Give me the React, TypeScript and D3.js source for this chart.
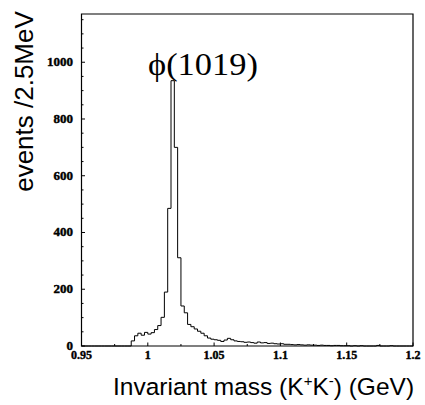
import React from "react";
import * as d3 from "d3";

const binStart = 0.95;
const binWidth = 0.0025;
const counts: number[] = [
  0, 0, 0, 0, 0, 0, 0, 0, 0, 0, 0, 0, 0, 0, 0,
  18, 36, 45, 38, 48, 42, 47, 58, 72,
  101, 190, 485, 935, 700, 311, 141, 117,
  76, 68, 60, 52, 45, 36, 28, 24, 22, 20, 16, 21,
  27, 22, 18, 16, 15, 13, 14,
  12, 10, 14, 11, 12, 9, 10, 8, 7, 8,
  6, 6, 5, 4, 5, 4, 3, 4, 3, 3,
  2, 3, 2, 2, 1, 2, 2, 1, 1, 1,
  0, 1, 0, 1, 0, 0, 0, 0, 2, 0,
  0, 0, 1, 0, 0, 0, 0, 0, 0,
];
const xTicks = [0.95, 1, 1.05, 1.1, 1.15, 1.2];
const xTickLabels = ["0.95", "1", "1.05", "1.1", "1.15", "1.2"];
const xMinorTicks = [0.975, 1.025, 1.075, 1.125, 1.175];
const yTicks = [0, 200, 400, 600, 800, 1000];
const yMinorTicks = [50, 100, 150, 250, 300, 350, 450, 500, 550, 650, 700, 750, 850, 900, 950, 1050, 1100, 1150];
const peakLabel = "ϕ(1019)";

export default function App() {
  const left = 81.5, right = 413, top = 14, bottom = 346;
  const x = d3.scaleLinear().domain([0.95, 1.2]).range([left, right]);
  const y = d3.scaleLinear().domain([0, 1170]).range([bottom, top]);

  const pts: [number, number][] = [];
  counts.forEach((c, i) => {
    const x0 = binStart + i * binWidth;
    pts.push([x(x0), y(c)]);
    pts.push([x(x0 + binWidth), y(c)]);
  });
  const line = d3.line<[number, number]>().x(d => d[0]).y(d => d[1]);
  const histPath = line(pts) || "";

  const tickFont = "'Liberation Serif', 'Times New Roman', serif";
  const sans = "'Liberation Sans', Arial, sans-serif";

  return (
    <svg width={425} height={405} style={{ position: "absolute", left: 0, top: 0, background: "#fff" }}>
      <rect x={0} y={0} width={425} height={405} fill="#fff" />
      <path d={histPath} fill="none" stroke="#000" strokeWidth={1} />
      <path d={`M${left},${top}H${right}V${bottom}H${left}Z`} fill="none" stroke="#000" strokeWidth={1.2} />
      {yTicks.map(t => (
        <line key={"ym" + t} x1={left} x2={left + 3.5} y1={y(t)} y2={y(t)} stroke="#000" strokeWidth={1} />
      ))}
      {yMinorTicks.map(t => (
        <line key={"yn" + t} x1={left} x2={left + 2} y1={y(t)} y2={y(t)} stroke="#000" strokeWidth={1} />
      ))}
      {yTicks.map(t => (
        <text key={"yl" + t} x={73} y={y(t) + 4} textAnchor="end" fontFamily={tickFont} fontWeight="bold" fontSize={12}
          textLength={String(t).length * 6.5} lengthAdjust="spacingAndGlyphs" fill="#000" stroke="#000" strokeWidth={0.4}>
          {String(t)}
        </text>
      ))}
      {xTicks.map(t => (
        <line key={"xm" + t} x1={x(t)} x2={x(t)} y1={bottom} y2={bottom - 3.5} stroke="#000" strokeWidth={1} />
      ))}
      {xMinorTicks.map(t => (
        <line key={"xn" + t} x1={x(t)} x2={x(t)} y1={bottom} y2={bottom - 2} stroke="#000" strokeWidth={1} />
      ))}
      {xTicks.map((t, i) => (
        <text key={"xl" + t} x={x(t)} y={359} textAnchor="middle" fontFamily={tickFont} fontWeight="bold" fontSize={12}
          fill="#000" stroke="#000" strokeWidth={0.4}>
          {xTickLabels[i]}
        </text>
      ))}
      <text x={148} y={75} fontFamily={tickFont} fontSize={31} textLength={110} lengthAdjust="spacingAndGlyphs" fill="#000">{peakLabel}</text>
      <text transform="translate(33,101.5) rotate(-90)" textAnchor="middle" fontFamily={sans} fontSize={26} fill="#000">
        events /2.5MeV
      </text>
      <text x={113} y={395} fontFamily={sans} fontSize={24.5} fill="#000">
        Invariant mass (K<tspan fontSize={15} dy={-9}>+</tspan><tspan dy={9}>K</tspan><tspan fontSize={15} dy={-9}>-</tspan><tspan dy={9}>) (GeV)</tspan>
      </text>
    </svg>
  );
}
